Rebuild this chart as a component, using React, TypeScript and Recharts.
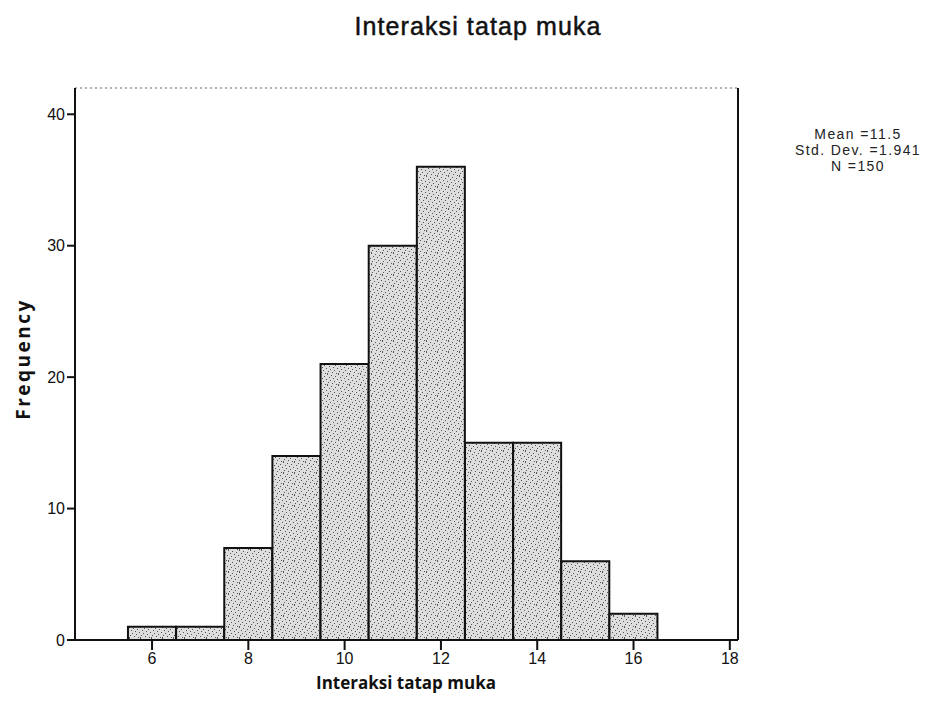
import { BarChart, Bar, XAxis, YAxis, ReferenceLine } from "recharts";

const binCenters = [6, 7, 8, 9, 10, 11, 12, 13, 14, 15, 16];
const frequencies = [1, 1, 7, 14, 21, 30, 36, 15, 15, 6, 2];
const xTicks = [6, 8, 10, 12, 14, 16, 18];
const yTicks = [0, 10, 20, 30, 40];
const statLines = ["Mean =11.5", "Std. Dev. =1.941", "N =150"];

const data = binCenters.map((x, i) => ({ x, count: frequencies[i] }));

const X_MIN = 4.4;
const X_MAX = 18.17;
const Y_MAX = 42;

// a few irregular dots per tile so the bars look stippled like the print
const DOTS = [
  [1, 1], [5, 2], [8, 0], [3, 4], [7, 5], [0, 6], [4, 7], [9, 8], [2, 9], [6, 10], [10, 3], [8, 10],
];

const tickStyle = { fontFamily: "'Liberation Sans', Arial, sans-serif", fontSize: 16, fill: "#111" };

export default function App() {
  return (
    <div style={{ position: "absolute", left: 0, top: 0, width: 933, height: 724, background: "#fff" }}>
      <BarChart
        width={933}
        height={724}
        data={data}
        margin={{ top: 88, right: 195, bottom: 44, left: 25 }}
        barCategoryGap={0}
        barGap={0}
      >
        <defs>
          <pattern id="stipple" width="11" height="11" patternUnits="userSpaceOnUse">
            <rect width="11" height="11" fill="#dedede" />
            {DOTS.map(([cx, cy], i) => (
              <rect key={i} x={cx} y={cy} width="1" height="1" fill="#555" />
            ))}
          </pattern>
        </defs>
        <text
          x={478}
          y={35}
          textAnchor="middle"
          fontFamily="'Liberation Sans', Arial, sans-serif"
          fontSize={25}
          letterSpacing={1.1}
          fill="#111"
          stroke="#111"
          strokeWidth={0.5}
        >
          Interaksi tatap muka
        </text>
        {statLines.map((s, i) => (
          <text
            key={s}
            x={858}
            y={139 + i * 16}
            textAnchor="middle"
            fontFamily="'Liberation Sans', Arial, sans-serif"
            fontSize={14}
            letterSpacing={1.4}
            fill="#222"
          >
            {s}
          </text>
        ))}
        <text
          x={30}
          y={359}
          transform="rotate(-90 30 359)"
          textAnchor="middle"
          fontFamily="'Open Sans', sans-serif"
          fontWeight="bold"
          fontSize={19}
          letterSpacing={2.5}
          fill="#111"
        >
          Frequency
        </text>
        <text
          x={406}
          y={689}
          textAnchor="middle"
          fontFamily="'Open Sans', sans-serif"
          fontWeight="bold"
          fontSize={17}
          fill="#111"
        >
          Interaksi tatap muka
        </text>
        <XAxis
          dataKey="x"
          type="number"
          domain={[X_MIN, X_MAX]}
          ticks={xTicks}
          allowDataOverflow
          height={40}
          tickSize={10}
          tickMargin={3}
          axisLine={{ stroke: "#111", strokeWidth: 2 }}
          tickLine={{ stroke: "#111", strokeWidth: 2 }}
          tick={tickStyle}
        />
        <YAxis
          type="number"
          domain={[0, Y_MAX]}
          ticks={yTicks}
          allowDataOverflow
          width={50}
          tickSize={8}
          tickMargin={2}
          axisLine={{ stroke: "#111", strokeWidth: 2 }}
          tickLine={{ stroke: "#111", strokeWidth: 2 }}
          tick={tickStyle}
        />
        <ReferenceLine y={Y_MAX} stroke="#666" strokeDasharray="2 3" strokeWidth={1} />
        <ReferenceLine x={X_MAX} stroke="#111" strokeWidth={2} />
        <Bar
          dataKey="count"
          fill="url(#stipple)"
          stroke="#111"
          strokeWidth={2}
          isAnimationActive={false}
        />
      </BarChart>
    </div>
  );
}
